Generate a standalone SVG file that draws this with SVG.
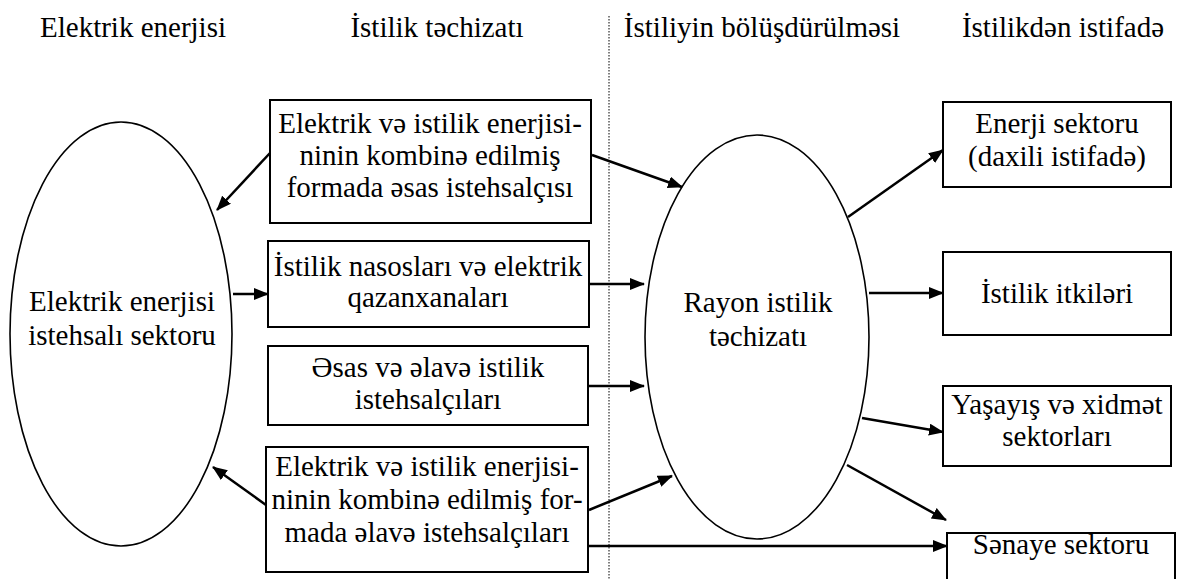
<svg xmlns="http://www.w3.org/2000/svg" width="1181" height="579" viewBox="0 0 1181 579">
<defs>
<marker id="ah" markerUnits="userSpaceOnUse" markerWidth="16" markerHeight="14" refX="14" refY="6" orient="auto">
<path d="M0,0 L15,6 L0,12 z" fill="#000"/>
</marker>
<style>
.h{font-size:29px}
.t{font-size:29px}
.box{fill:#fff;stroke:#000;stroke-width:2}
.ell{fill:#fff;stroke:#000;stroke-width:1.6}
.c line{stroke:#000;stroke-width:2.5;marker-end:url(#ah)}
</style>
</defs>
<rect width="1181" height="579" fill="#fff"/>
<g font-family="'Liberation Serif','Times New Roman',serif" text-anchor="middle" fill="#000">
<g id="headings">
<text class="h" x="133" y="37">Elektrik enerjisi</text>
<text class="h" x="437" y="37">İstilik təchizatı</text>
<text class="h" x="762" y="37">İstiliyin bölüşdürülməsi</text>
<text class="h" x="1063" y="37">İstilikdən istifadə</text>
</g>
<line id="divider" x1="609" y1="16" x2="609" y2="579" stroke="#000" stroke-width="1" stroke-dasharray="1.5,1.5"/>
<g id="electricity-sector">
<ellipse class="ell" cx="121" cy="334" rx="111" ry="212"/>
<text class="t" x="122" y="311">Elektrik enerjisi</text>
<text class="t" x="122" y="345">istehsalı sektoru</text>
</g>
<g id="chp-main">
<rect class="box" x="270" y="100" width="321" height="123"/>
<text class="t" x="430" y="133">Elektrik və istilik enerjisi-</text>
<text class="t" x="430" y="165">ninin kombinə edilmiş</text>
<text class="t" x="430" y="197">formada əsas istehsalçısı</text>
</g>
<g id="heat-pumps">
<rect class="box" x="268" y="241" width="321" height="86"/>
<text class="t" x="428" y="276">İstilik nasosları və elektrik</text>
<text class="t" x="428" y="307">qazanxanaları</text>
</g>
<g id="heat-producers">
<rect class="box" x="268" y="346" width="320" height="79"/>
<text class="t" x="428" y="377">Əsas və əlavə istilik</text>
<text class="t" x="428" y="409">istehsalçıları</text>
</g>
<g id="chp-additional">
<rect class="box" x="266" y="447" width="322" height="125"/>
<text class="t" x="427" y="476">Elektrik və istilik enerjisi-</text>
<text class="t" x="427" y="509">ninin kombinə edilmiş for-</text>
<text class="t" x="427" y="542">mada əlavə istehsalçıları</text>
</g>
<g id="district-heating">
<ellipse class="ell" cx="757" cy="337" rx="112" ry="202"/>
<text class="t" x="758" y="312">Rayon istilik</text>
<text class="t" x="758" y="346">təchizatı</text>
</g>
<g id="energy-sector">
<rect class="box" x="943" y="102" width="228" height="85"/>
<text class="t" x="1057" y="133">Enerji sektoru</text>
<text class="t" x="1057" y="166">(daxili istifadə)</text>
</g>
<g id="heat-losses">
<rect class="box" x="943" y="252" width="228" height="83"/>
<text class="t" x="1057" y="303">İstilik itkiləri</text>
</g>
<g id="residential">
<rect class="box" x="943" y="386" width="228" height="80"/>
<text class="t" x="1057" y="414">Yaşayış və xidmət</text>
<text class="t" x="1057" y="446">sektorları</text>
</g>
<g id="industry">
<rect class="box" x="947" y="533" width="228" height="60"/>
<text class="t" x="1061" y="554">Sənaye sektoru</text>
</g>
</g>
<g id="connectors" class="c">
<line x1="270" y1="153" x2="217" y2="210"/>
<line x1="233" y1="294" x2="268" y2="294"/>
<line x1="592" y1="155" x2="682" y2="187"/>
<line x1="590" y1="284" x2="644" y2="284"/>
<line x1="589" y1="386" x2="644" y2="386"/>
<line x1="589" y1="510" x2="672" y2="476"/>
<line x1="266" y1="505" x2="213" y2="467"/>
<line x1="589" y1="546" x2="947" y2="546"/>
<line x1="848" y1="217" x2="943" y2="150"/>
<line x1="869" y1="293" x2="943" y2="293"/>
<line x1="862" y1="418" x2="943" y2="432"/>
<line x1="847" y1="465" x2="946" y2="520"/>
</g>
</svg>
